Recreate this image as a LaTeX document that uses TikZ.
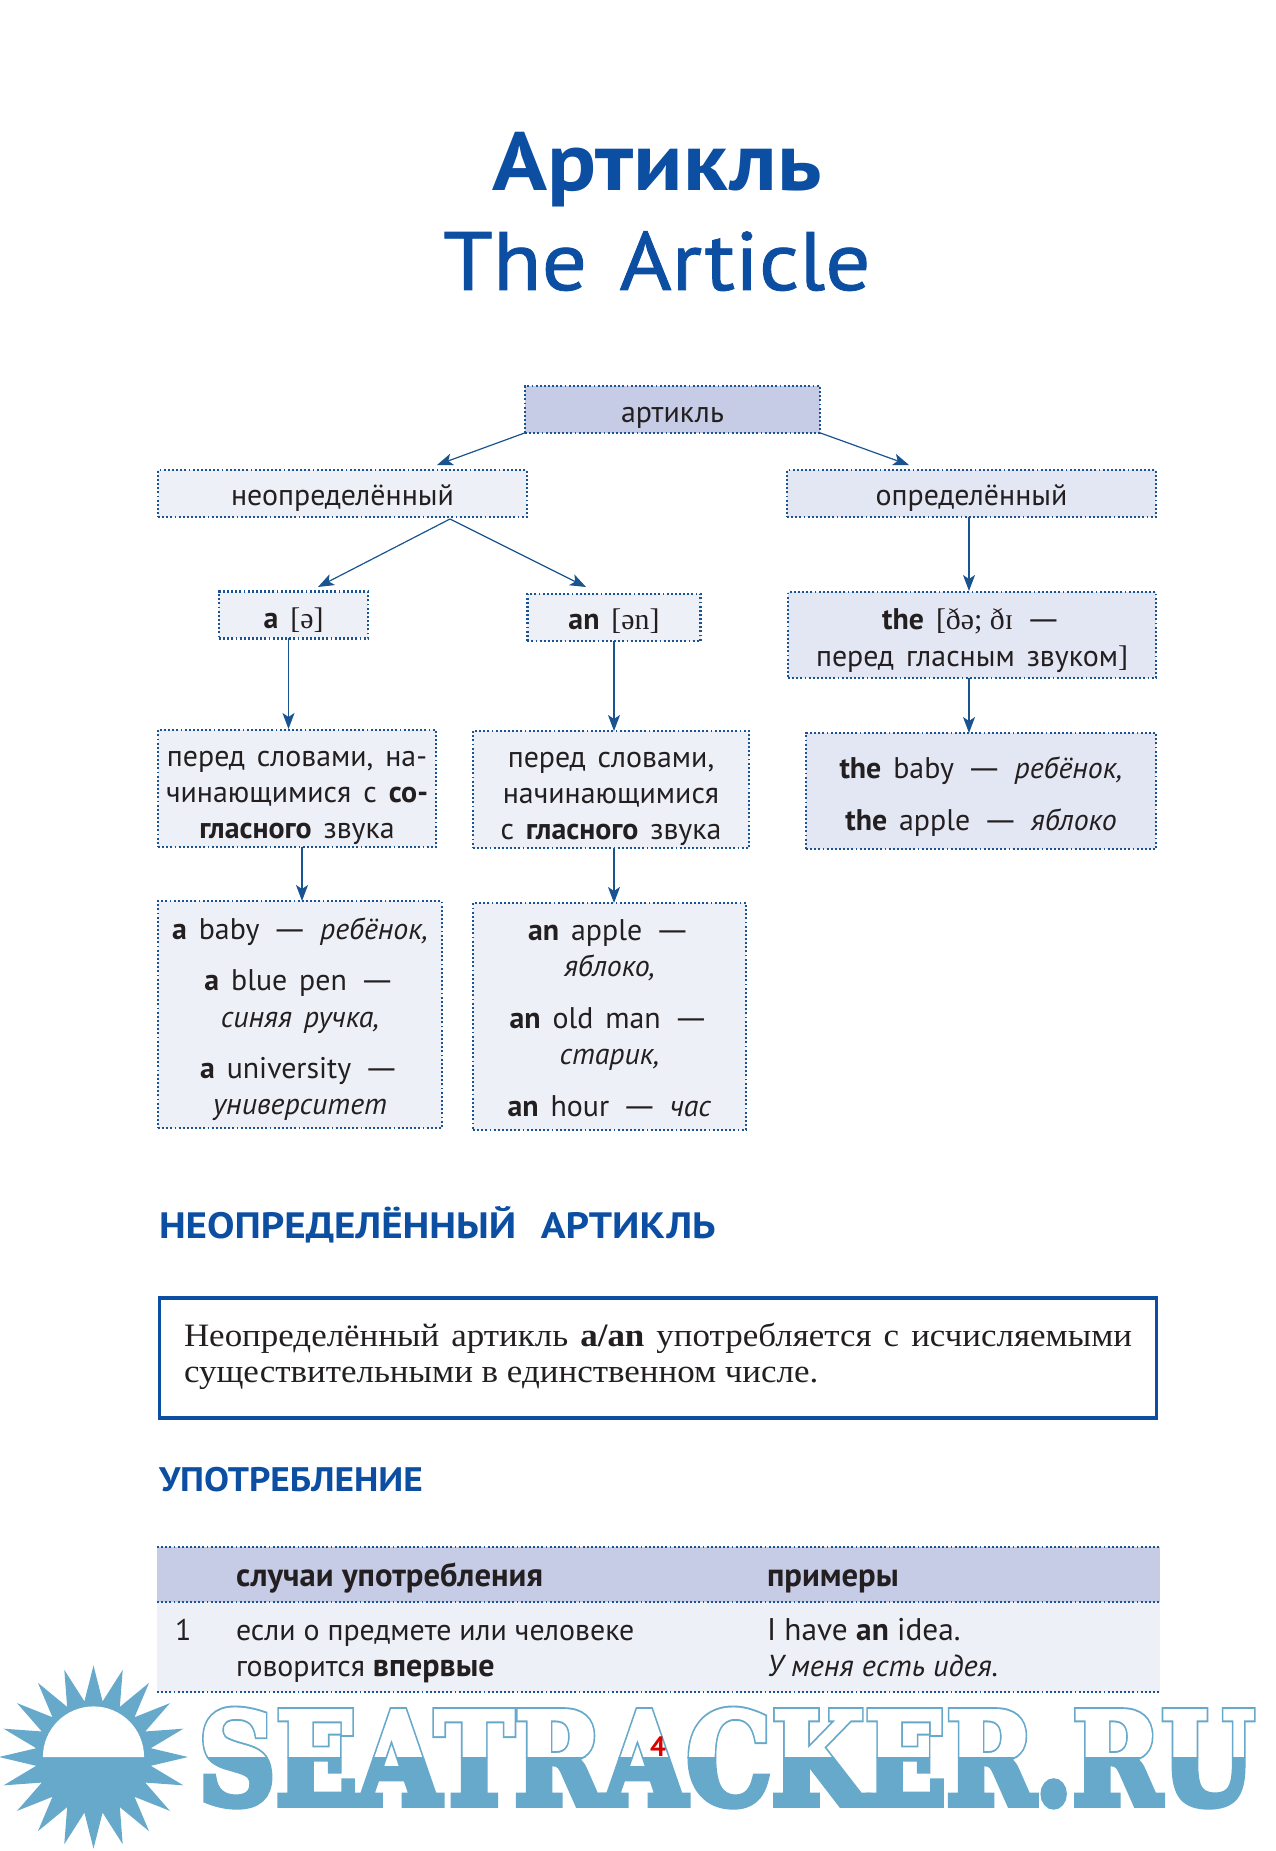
\documentclass[tikz,border=0pt]{standalone}
\usepackage{fontspec}
\usepackage{graphicx}
\usetikzlibrary{arrows.meta,calc}
\setmainfont[WordSpace=1.5]{PT Sans}
\newfontfamily\tight{PT Sans}
\newfontfamily\serfont{Liberation Serif}
\newfontface\wmin[FakeBold=3]{DejaVu Serif Bold}
\newfontface\wmout[FakeBold=6]{DejaVu Serif Bold}
\newfontface\titlereg[FakeBold=1]{PT Sans}
\definecolor{ink}{HTML}{231F20}
\definecolor{blue1}{HTML}{0B4EA2}
\definecolor{dotc}{HTML}{1A5490}
\definecolor{lt}{HTML}{EEF0F8}
\definecolor{md}{HTML}{E3E6F3}
\definecolor{dk}{HTML}{C6CBE6}
\definecolor{wm}{HTML}{66A9CB}
\newcommand\tb[2]{\raisebox{-#1}[\height][\depth]{\begin{tabular}{@{}c@{}}#2\end{tabular}}}
\newcommand\dsh{\scalebox{1.5}[1]{—}}
\tikzset{
 bx/.style={rectangle,draw=dotc,line width=1.8pt,dash pattern=on 1.4pt off 1.7pt,fill=lt,inner sep=0pt,outer sep=0pt,text=ink,font=\fontsize{22.4}{27.2}\selectfont},
 bxm/.style={bx,fill=md},
 bxd/.style={bx,fill=dk},
 arr/.style={draw=dotc,line width=.9pt,-{Stealth[length=12pt,width=9pt,inset=3pt]}},
 txt/.style={inner sep=0pt,outer sep=0pt,anchor=base west,text=ink},
 head/.style={inner sep=0pt,outer sep=0pt,anchor=base west,text=blue1},
 rowline/.style={draw=dotc,line width=1.8pt,dash pattern=on 1.4pt off 1.7pt},
}
\begin{document}
\begin{tikzpicture}[x=.75pt,y=-.75pt]
\useasboundingbox (0,0) rectangle (1276,1851);
\fill[white] (0,0) rectangle (1276,1851);
% titles
\node[inner sep=0pt,anchor=base,text=blue1,font=\fontsize{62}{62}\selectfont\bfseries] (t1) at (657,191) {\scalebox{1.1}[1]{Артикль}};
\node[inner sep=0pt,anchor=base,text=blue1,font=\fontsize{62}{62}\titlereg] (t2) at (657,290) {\scalebox{1.08}[1]{The\kern6pt\ Article}};
% boxes
\node[bxd,minimum width=221.25pt,minimum height=35pt] (art) at (672.5,409.5) {\tb{4.4pt}{артикль}};
\node[bx,minimum width=276.75pt,minimum height=35pt] (neo) at (342.5,493.5) {\tb{3.5pt}{неопределённый}};
\node[bxm,minimum width=276.75pt,minimum height=35pt] (def) at (971.5,493.5) {\tb{3.5pt}{определённый}};
\node[bx,minimum width=111.75pt,minimum height=35pt] (aa) at (293.5,615) {\tb{4.5pt}{{\bfseries a} {\serfont [ə]}}};
\node[bx,minimum width=130pt,minimum height=35pt] (an) at (614,617.5) {\tb{3.6pt}{{\bfseries an} {\serfont [ən]}}};
\node[bxm,minimum width=276pt,minimum height=64.5pt] (the) at (972,635) {\tb{4.4pt}{{\bfseries the} {\serfont [ðə; ðɪ} \dsh\\перед гласным звуком{\serfont ]}}};
\node[bx,minimum width=208.5pt,minimum height=88pt] (p1) at (297,788.5) {\tb{5pt}{перед словами, на-\\чинающимися с {\bfseries со-}\\{\bfseries гласного} звука}};
\node[bx,minimum width=207pt,minimum height=88pt] (p2) at (611,789.5) {\tb{5pt}{перед словами,\\начинающимися\\с {\bfseries гласного} звука}};
\node[bxm,minimum width=262.5pt,minimum height=87pt] (tb) at (981,791) {\tb{4.5pt}{{\bfseries the} baby \dsh\ \textit{ребёнок,}\\[11.5pt]{\bfseries the} apple \dsh\ \textit{яблоко}}};
\node[bx,minimum width=213pt,minimum height=170pt] (ab) at (300,1014.5) {\tb{4pt}{{\bfseries a} baby \dsh\ \textit{ребёнок,}\\[11.5pt]{\bfseries a} blue pen \dsh\\\textit{синяя ручка,}\\[11.5pt]{\bfseries a} university \dsh\\\textit{университет}}};
\node[bx,minimum width=204.75pt,minimum height=170pt] (anb) at (609.5,1016.5) {\tb{3.5pt}{{\bfseries an} apple \dsh\\\textit{яблоко,}\\[11.5pt]{\bfseries an} old man \dsh\\\textit{старик,}\\[11.5pt]{\bfseries an} hour \dsh\ \textit{час}}};
% connector ends
\coordinate (tipNeo) at (437,465);
\coordinate (tipDef) at (909,465);
\coordinate (neoFork) at (450,519);
\coordinate (tipA) at (318,587);
\coordinate (tipAn) at (586,587);
\coordinate (tipThe) at (969,591);
\coordinate (tipP1) at (288.5,729);
\coordinate (tipP2) at (614,731);
\coordinate (tipTb) at (969,733);
\coordinate (tipAb) at (302,901);
\coordinate (tipAnb) at (614,903);
\draw[arr] (art.south west) -- (tipNeo);
\draw[arr] (art.south east) -- (tipDef);
\draw[arr] (neoFork) -- (tipA);
\draw[arr] (neoFork) -- (tipAn);
\draw[arr] (def.south -| tipThe) -- (tipThe);
\draw[arr] (aa.south -| tipP1) -- (tipP1);
\draw[arr] (an.south -| tipP2) -- (tipP2);
\draw[arr] (the.south -| tipTb) -- (tipTb);
\draw[arr] (p1.south -| tipAb) -- (tipAb);
\draw[arr] (p2.south -| tipAnb) -- (tipAnb);
% section
\node[head,font=\fontsize{27.5}{30}\selectfont\bfseries] (h1) at (159,1238) {\scalebox{1.12}[1]{НЕОПРЕДЕЛЁННЫЙ\kern6pt\ АРТИКЛЬ}};
\node[draw=blue1,line width=2.6pt,minimum width=748pt,minimum height=90pt,inner sep=0pt,outer sep=0pt] (rule) at (658,1358) {};
\node[txt,font=\fontsize{24.5}{28}\serfont] (r1) at (184,1346) {\scalebox{1.07}[1]{\makebox[664.5pt][s]{Неопределённый артикль {\bfseries a/an} употребляется с исчисляемыми}}};
\node[txt,font=\fontsize{24.5}{28}\serfont] (r2) at (184,1382) {\scalebox{1.07}[1]{существительными в единственном числе.}};
\node[head,font=\fontsize{25.5}{28}\selectfont\bfseries] (h2) at (159,1491) {\scalebox{1.1}[1]{УПОТРЕБЛЕНИЕ}};
% table
\fill[dk] (157,1547) rectangle (1160,1602);
\fill[lt] (157,1602) rectangle (1160,1692);
\coordinate (tl1) at (157,1547); \coordinate (tr1) at (1160,1547);
\coordinate (tl2) at (157,1602); \coordinate (tr2) at (1160,1602);
\coordinate (tl3) at (157,1692); \coordinate (tr3) at (1160,1692);
\draw[rowline] (tl1) -- (tr1);
\draw[rowline] (tl2) -- (tr2);
\draw[rowline] (tl3) -- (tr3);
\node[txt,font=\fontsize{24.5}{27}\tight\bfseries] (c1) at (236,1586) {случаи употребления};
\node[txt,font=\fontsize{24.5}{27}\tight\bfseries] (c2) at (767,1586) {примеры};
\node[txt,font=\fontsize{22.4}{27}\tight] (n1) at (175,1640) {1};
\node[txt,font=\fontsize{22.4}{27}\tight] (d1) at (236,1640) {если о предмете или человеке};
\node[txt,font=\fontsize{22.4}{27}\tight] (d2) at (236,1676) {говорится {\fontsize{24}{27}\selectfont\bfseries впервые}};
\node[txt,font=\fontsize{23.5}{27}\tight] (e1) at (767,1640) {I have {\bfseries an} idea.};
\node[txt,font=\fontsize{22.7}{27}\tight\itshape] (e2) at (767,1676) {У меня есть идея.};
% watermark sun
\fill[wm,shift={(93.5,1757)},yscale=.97] (0:94.5) \foreach \k in {1,...,39}{ -- ({\k*9}:{isodd(\k)?58:94.5}) } -- cycle;
\fill[white,shift={(93.5,1757)}] (-50.6,0) arc (180:360:50.6) -- cycle;
% watermark text
\begin{scope}
\clip (160,1650) rectangle (1276,1757);
\node[inner sep=0pt,anchor=base west,text=wm] (w1) at (198,1804) {\resizebox{792pt}{71pt}{\wmout SEATRACKER.RU}};
\node[inner sep=0pt,anchor=base west,text=white] (w2) at (198,1804) {\resizebox{792pt}{71pt}{\wmin SEATRACKER.RU}};
\end{scope}
\begin{scope}
\clip (160,1757) rectangle (1276,1851);
\node[inner sep=0pt,anchor=base west,text=wm] (w3) at (198,1804) {\resizebox{792pt}{71pt}{\wmout SEATRACKER.RU}};
\end{scope}
\node[inner sep=0pt,anchor=base,text=red!85!black,font=\fontsize{21}{21}\tight\bfseries] (pg) at (658,1756) {4};
\end{tikzpicture}
\end{document}
